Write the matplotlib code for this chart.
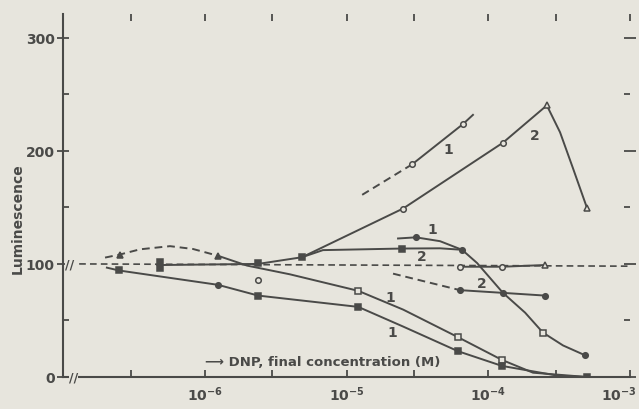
import matplotlib.pyplot as plt
import matplotlib.transforms as mtransforms
from matplotlib.ticker import FixedLocator, FixedFormatter, NullFormatter

BG = '#e7e5dd'
INK = '#4a4a48'

# control level, dashed across the whole range
ctrl_x = [1.3e-7, 1.0e-3]
ctrl_y = [100, 98]
ctrl_mx = [6.3e-5, 1.25e-4, 2.5e-4]
ctrl_my = [97.5, 97.5, 99]

# curve 1 (upper of the lower pair): dashed hump, then solid
c1a_dash_x = [1.98e-7, 2.52e-7, 3.49e-7, 5.69e-7, 8.26e-7, 1.24e-6]
c1a_dash_y = [105.6, 108.3, 112.9, 115.7, 113.2, 107.2]
c1a_x = [1.24e-6, 1.99e-6, 3.99e-6, 1.21e-5, 2.51e-5, 6.12e-5, 1.25e-4, 2.07e-4, 4.98e-4]
c1a_y = [107.2, 98.5, 90.8, 76.2, 59.6, 35.2, 15.1, 3.8, 0]
c1a_tri_x = [2.52e-7, 1.24e-6]
c1a_tri_y = [108.3, 107.2]
c1a_sq_x = [1.21e-5, 6.12e-5, 1.25e-4]
c1a_sq_y = [76.2, 35.2, 15.1]
lone_x = [2.38e-6]
lone_y = [86.2]

# curve 1 (lower, filled squares)
c1b_x = [2.04e-7, 2.48e-7, 1.24e-6, 2.38e-6, 1.21e-5, 2.51e-5, 6.12e-5, 1.25e-4, 3.05e-4, 4.98e-4]
c1b_y = [96.7, 94.2, 81.5, 72.0, 62.0, 44.6, 22.8, 9.8, 1.3, 0]
c1b_mx = [2.48e-7, 2.38e-6, 1.21e-5, 6.12e-5, 1.25e-4, 4.98e-4]
c1b_my = [94.2, 72.0, 62.0, 22.8, 9.8, 0]
c1b_cx = [1.24e-6]
c1b_cy = [81.5]

# flat start, then curve 2 rising to a peak
c2r_x = [4.83e-7, 2.38e-6, 4.85e-6, 2.51e-5, 1.27e-4, 2.59e-4, 3.21e-4, 3.96e-4, 4.98e-4]
c2r_y = [99, 100, 105.9, 149, 207.2, 240.2, 216.4, 184.6, 149.3]
c2r_fill_x = [4.83e-7, 4.83e-7, 2.38e-6, 4.85e-6]
c2r_fill_y = [101.5, 96, 100.5, 105.9]
c2r_open_x = [2.51e-5, 1.27e-4]
c2r_open_y = [149, 207.2]
c2r_tri_x = [2.59e-4, 4.98e-4]
c2r_tri_y = [240.2, 149.3]

# curve 2 branching flat, joining curve 1
c2f_x = [4.85e-6, 6.82e-6, 2.47e-5, 4.57e-5, 6.53e-5]
c2f_y = [105.9, 112.2, 113.6, 113.8, 112.5]
c2f_mx = [2.47e-5]
c2f_my = [113.6]

# curve 1 (middle), falling steeply
c1m_x = [2.31e-5, 3.09e-5, 4.57e-5, 6.53e-5, 8.34e-5, 1.27e-4, 1.82e-4, 2.43e-4, 3.37e-4, 4.82e-4]
c1m_y = [122.5, 123.5, 120.1, 112.5, 100.8, 74.4, 56.9, 39.3, 27.9, 19.2]
c1m_fill_x = [3.09e-5, 6.53e-5, 1.27e-4, 4.82e-4]
c1m_fill_y = [123.5, 112.5, 74.4, 19.2]
c1m_open_x = [2.43e-4]
c1m_open_y = [39.3]

# curve 2 (lower), dashed then solid
c2l_dash_x = [2.13e-5, 6.32e-5]
c2l_dash_y = [91.4, 76.8]
c2l_x = [6.32e-5, 1.27e-4, 2.51e-4]
c2l_y = [76.8, 74.4, 72.0]

# curve 1 (top), dashed then solid
c1t_dash_x = [1.29e-5, 2.90e-5]
c1t_dash_y = [161.1, 188.0]
c1t_x = [2.90e-5, 6.64e-5, 7.80e-5]
c1t_y = [188.0, 223.7, 231.8]
c1t_mx = [2.90e-5, 6.64e-5]
c1t_my = [188.0, 223.7]

curve_labels = ['1', '2', '1', '2', '2', '1', '1']
label_x = [5.2e-5, 2.14e-4, 4.0e-5, 3.4e-5, 9.0e-5, 2.03e-5, 2.1e-5]
label_y = [202, 214, 131, 107, 83, 71, 40]

xmajor = [1e-6, 1e-5, 1e-4, 1e-3]
xminor = [3e-7, 3e-6, 3e-5, 3e-4]
xlabels = [r'$\mathbf{10^{-6}}$', r'$\mathbf{10^{-5}}$', r'$\mathbf{10^{-4}}$', r'$\mathbf{10^{-3}}$']
ymajor = [0, 100, 200, 300]
yminor = [50, 150, 250]

plt.rcParams['font.family'] = ['DejaVu Sans']
fig = plt.figure(figsize=(6.39, 4.10), dpi=100, facecolor=BG)
ax = fig.add_axes([63 / 639, 32 / 410, 567 / 639, 363 / 410], facecolor=BG)
ax.set_xscale('log')
ax.set_xlim(1e-7, 1e-3)
ax.set_ylim(0, 321)

lw = 1.4
dash = (4, 2.5)
ax.plot(ctrl_x, ctrl_y, color=INK, lw=1.2, dashes=dash)
ax.plot(ctrl_mx, ctrl_my, color=INK, lw=lw)
ax.plot(c1a_dash_x, c1a_dash_y, color=INK, lw=lw, dashes=dash)
ax.plot(c1a_x, c1a_y, color=INK, lw=lw)
ax.plot(c1b_x, c1b_y, color=INK, lw=lw)
ax.plot(c2r_x, c2r_y, color=INK, lw=lw)
ax.plot(c2f_x, c2f_y, color=INK, lw=lw)
ax.plot(c1m_x, c1m_y, color=INK, lw=lw)
ax.plot(c2l_dash_x, c2l_dash_y, color=INK, lw=lw, dashes=dash)
ax.plot(c2l_x, c2l_y, color=INK, lw=lw)
ax.plot(c1t_dash_x, c1t_dash_y, color=INK, lw=lw, dashes=dash)
ax.plot(c1t_x, c1t_y, color=INK, lw=lw)

def dots(x, y, m, filled, ms=4):
    ax.plot(x, y, ls='none', marker=m, ms=ms, mec=INK, mew=1.1,
            mfc=INK if filled else BG, zorder=3)

dots(ctrl_mx[:2], ctrl_my[:2], 'o', False)
dots(ctrl_mx[2:], ctrl_my[2:], '^', False)
dots(c1a_tri_x, c1a_tri_y, '^', True)
dots(c1a_sq_x, c1a_sq_y, 's', False)
dots(lone_x, lone_y, 'o', False)
dots(c1b_mx, c1b_my, 's', True)
dots(c1b_cx, c1b_cy, 'o', True)
dots(c2r_fill_x, c2r_fill_y, 's', True)
dots(c2r_open_x, c2r_open_y, 'o', False)
dots(c2r_tri_x, c2r_tri_y, '^', False)
dots(c2f_mx, c2f_my, 's', True)
dots(c1m_fill_x, c1m_fill_y, 'o', True)
dots(c1m_open_x, c1m_open_y, 's', False)
dots(c2l_dash_x[1:], c2l_dash_y[1:], 'o', True)
dots(c2l_x[2:], c2l_y[2:], 'o', True)
dots(c1t_mx, c1t_my, 'o', False)

for t, x, y in zip(curve_labels, label_x, label_y):
    ax.text(x, y, t, color=INK, fontsize=10, fontweight='bold', ha='center', va='center')

ax.text(1e-6, 14, '\u27f6 DNP, final concentration (M)', color=INK, fontsize=9.5,
        fontweight='bold', va='center')

# axis breaks
ax.text(1.12e-7, 100, '//', color=INK, fontsize=9, fontweight='bold', ha='center', va='center',
        bbox=dict(facecolor=BG, edgecolor='none', pad=0))
ax.text(1.18e-7, 0, '//', color=INK, fontsize=9, fontweight='bold', ha='center', va='center',
        bbox=dict(facecolor=BG, edgecolor='none', pad=0))

for s in ['top', 'right']:
    ax.spines[s].set_visible(False)
for s in ['left', 'bottom']:
    ax.spines[s].set_color(INK)
    ax.spines[s].set_linewidth(1.5)

ax.xaxis.set_major_locator(FixedLocator(xmajor))
ax.xaxis.set_major_formatter(FixedFormatter(xlabels))
ax.xaxis.set_minor_locator(FixedLocator(xminor))
ax.xaxis.set_minor_formatter(NullFormatter())
ax.yaxis.set_major_locator(FixedLocator(ymajor))
ax.yaxis.set_minor_locator(FixedLocator(yminor))

ax.tick_params(axis='x', which='both', direction='in', length=5, width=1.3, color=INK,
               top=True, labelcolor=INK, labelsize=10, pad=5)
ax.tick_params(axis='y', which='major', direction='inout', length=8, width=1.3, color=INK,
               right=True, labelcolor=INK, labelsize=10, pad=2)
ax.tick_params(axis='y', which='minor', direction='in', length=4, width=1.3, color=INK, right=True)
for lab in ax.get_yticklabels():
    lab.set_fontweight('bold')

# last decade label sits at the edge; nudge it inside the canvas
last = ax.get_xticklabels()[-1]
last.set_transform(last.get_transform() + mtransforms.ScaledTranslation(-11 / 100, 0, fig.dpi_scale_trans))

ax.set_ylabel('Luminescence', color=INK, fontsize=10, fontweight='bold')
ax.yaxis.set_label_coords(-0.068, 0.44)

fig.savefig('out.png', dpi=100, facecolor=BG)
